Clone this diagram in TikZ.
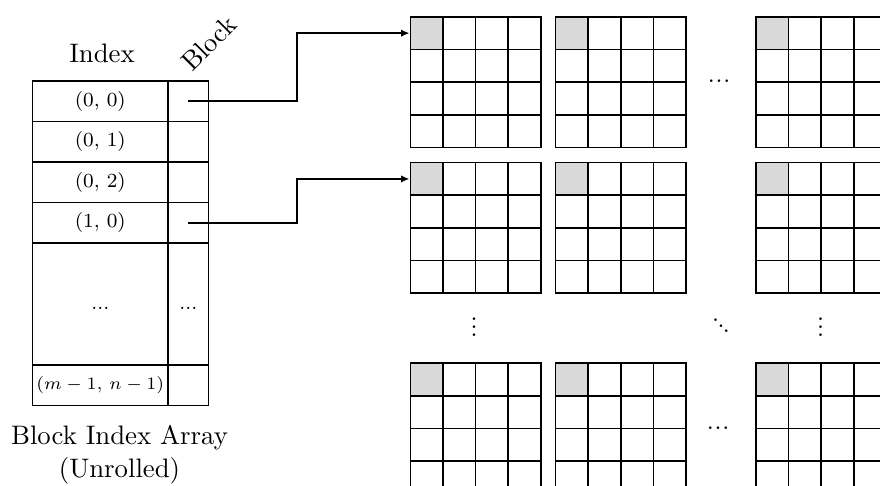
\documentclass[tikz,border=0pt]{standalone}
\usetikzlibrary{arrows.meta}
\definecolor{shade}{gray}{0.85}
% compact elision marks
\newcommand\hdotsmark{\hbox{.\kern0.33pt.\kern0.33pt.}}
\newcommand\vdotsmark{\vbox{\baselineskip3.08pt\lineskiplimit0pt\hbox{.}\hbox{.}\hbox{.}}}
\newcommand\ddotsmark{\hbox{.\kern-0.65pt\raisebox{-2.13pt}{.}\kern-0.65pt\raisebox{-4.26pt}{.}}}
\begin{document}
\begin{tikzpicture}[x=0.4pt,y=-0.4pt,
  cell/.style={draw, line width=0.65pt, minimum size=13.06pt, inner sep=0pt, anchor=north west},
  icell/.style={draw, line width=0.65pt, inner sep=0pt, anchor=north west,
    minimum width=54.24pt, minimum height=16.24pt, font=\footnotesize},
  bcell/.style={icell, minimum width=16.16pt},
  label/.style={font=\fontsize{10.7}{13.2}\selectfont},
  elide/.style={inner sep=0pt},
  link/.style={line width=0.9pt, -{Latex[length=3.4pt,width=3pt]}},
]
\useasboundingbox (0,0) rectangle (880,486);
\clip (0,0) rectangle (880,486);
\fill[white] (0,0) rectangle (880,486);

% block index array
\node[icell] (i0) at (31.7,80.0)  {(0, 0)};
\node[icell] (i1) at (31.7,120.6) {(0, 1)};
\node[icell] (i2) at (31.7,161.2) {(0, 2)};
\node[icell] (i3) at (31.7,201.8) {(1, 0)};
\node[icell, minimum height=48.72pt] (i4) at (31.7,242.4) {\vphantom{(}...};
\node[icell, font=\fontsize{7}{8.5}\selectfont] (i5) at (31.7,364.2) {$(m-1,\, n-1)$};
\node[bcell] (b0) at (167.3,80.0)  {};
\node[bcell] (b1) at (167.3,120.6) {};
\node[bcell] (b2) at (167.3,161.2) {};
\node[bcell] (b3) at (167.3,201.8) {};
\node[bcell, minimum height=48.72pt] (b4) at (167.3,242.4) {\vphantom{(}...};
\node[bcell] (b5) at (167.3,364.2) {};

\node[label] (idxlabel) at (102,53) {Index};
\node[label, rotate=45] (blklabel) at (209,43) {Block};
\node[label, align=center] (arrlabel) at (119.5,455) {Block Index Array\\(Unrolled)};

% blocks of the matrix
\foreach \gx [count=\ci] in {409.5,554.8,755}
  \foreach \gy [count=\ri] in {16,161.8,362.3} {
    \node[cell, fill=shade] (h\ri\ci) at (\gx,\gy) {};
    \foreach \r in {0,...,3}
      \foreach \c in {0,...,3}
        \node[cell] (g\ri\ci-\r\c) at (\gx+\c*32.65,\gy+\r*32.65) {};
  }

% elisions between blocks
\node[elide] (hd1) at (719,81) {\hdotsmark};
\node[elide] (hd3) at (718,428) {\hdotsmark};
\node[elide] (vd1) at (474,327) {\vdotsmark};
\node[elide] (vd3) at (820.7,327) {\vdotsmark};
\node[elide] (dd)  at (721,325.7) {\ddotsmark};

% pointers from the index array into the blocks
\coordinate (bend) at (297,0);
\draw[link] (b0.center) -- (b0.center -| bend) |- (h11.west);
\draw[link] (b3.center) -- (b3.center -| bend) |- (h21.west);
\end{tikzpicture}
\end{document}
